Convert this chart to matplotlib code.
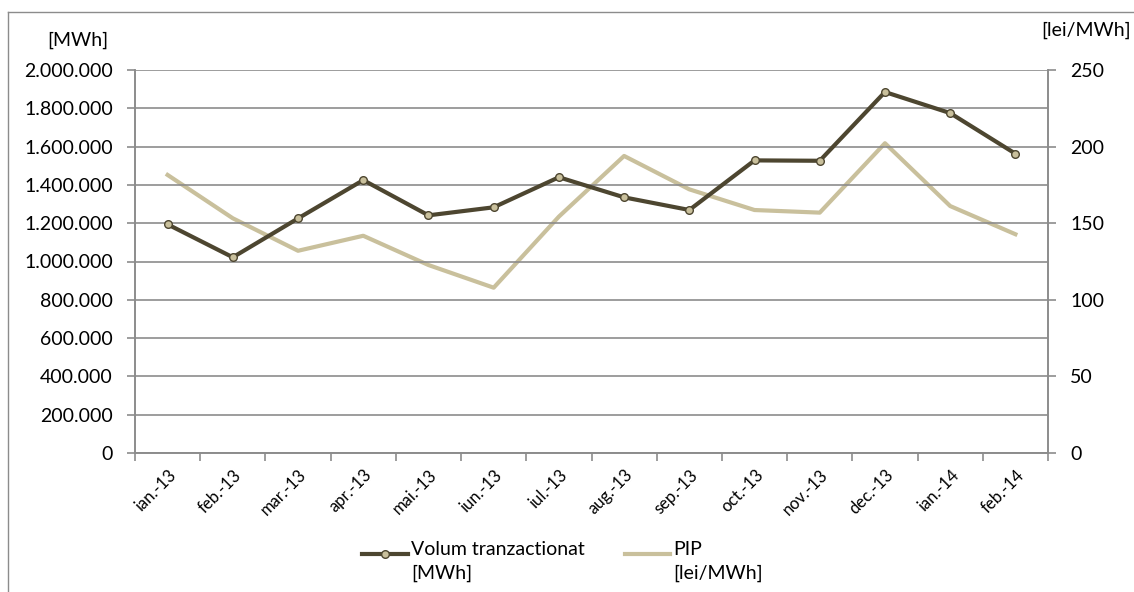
import matplotlib
matplotlib.use("Agg")
import matplotlib.pyplot as plt
import matplotlib.transforms as mtransforms
from matplotlib.ticker import FuncFormatter, FixedLocator
from matplotlib.lines import Line2D

# date
luni = ["ian.-13", "feb.-13", "mar.-13", "apr.-13", "mai.-13", "iun.-13", "iul.-13",
        "aug.-13", "sep.-13", "oct.-13", "nov.-13", "dec.-13", "ian.-14", "feb.-14"]
volum_mwh = [1194000, 1022000, 1225000, 1425000, 1241000, 1283000, 1440000,
             1335000, 1269000, 1528000, 1526000, 1885000, 1775000, 1563000]
pip_lei = [181.5, 153.2, 132.0, 141.8, 122.7, 107.9, 154.3,
           193.9, 172.1, 158.6, 156.9, 202.2, 161.2, 142.8]
ticks_stanga = [0, 200000, 400000, 600000, 800000, 1000000, 1200000, 1400000,
                1600000, 1800000, 2000000]
ticks_dreapta = [0, 50, 100, 150, 200, 250]

DARK = "#4d4630"
LIGHT = "#c9c09c"
MARKER = "#c9c09c"
GRID = "#8c8c8c"
FS = 14

plt.rcParams["font.family"] = ["Lato", "DejaVu Sans"]

W, H = 1134, 592
fig = plt.figure(figsize=(W / 100, H / 100), dpi=100)
ax = fig.add_axes([135 / W, 1 - 453 / H, (1048 - 135) / W, (453 - 70) / H])
ax2 = ax.twinx()

x = list(range(len(luni)))
ax.plot(x, volum_mwh, color=DARK, lw=3, marker="o", ms=5.5,
        mfc=MARKER, mec=DARK, mew=1, zorder=4)
ax2.plot(x, pip_lei, color=LIGHT, lw=3, zorder=3)
ax.set_zorder(ax2.get_zorder() + 1)
ax.patch.set_visible(False)

ax.set_xlim(-0.5, len(luni) - 0.5)
ax.set_ylim(0, 2000000)
ax2.set_ylim(0, 250)

ax.set_yticks(ticks_stanga)
ax.yaxis.set_major_formatter(FuncFormatter(lambda v, p: f"{int(v):,}".replace(",", ".")))
ax2.set_yticks(ticks_dreapta)

ax.xaxis.set_major_locator(FixedLocator([i - 0.5 for i in range(len(luni) + 1)]))
ax.xaxis.set_major_formatter(FuncFormatter(lambda v, p: ""))
ax.xaxis.set_minor_locator(FixedLocator(x))
ax.xaxis.set_minor_formatter(FuncFormatter(lambda v, p: luni[int(round(v))]))
ax.tick_params(axis="x", which="minor", length=0, pad=14, labelsize=12, colors="black")
ax.tick_params(axis="x", which="major", length=6, color=GRID, width=1.2)
ax.tick_params(axis="y", length=6, color=GRID, width=1.2, labelsize=FS, pad=10)
ax2.tick_params(axis="y", length=6, color=GRID, width=1.2, labelsize=FS, pad=10)

shift = mtransforms.ScaledTranslation(6 / 100, 0, fig.dpi_scale_trans)
for lbl in ax.get_xticklabels(minor=True):
    lbl.set_rotation(45)
    lbl.set_ha("right")
    lbl.set_va("center")
    lbl.set_rotation_mode("anchor")
    lbl.set_transform(lbl.get_transform() + shift)

ax.grid(axis="y", color=GRID, lw=1.2)
for a in (ax, ax2):
    a.spines["top"].set_visible(False)
    for s in ("left", "right", "bottom"):
        a.spines[s].set_color(GRID)
        a.spines[s].set_linewidth(1.2)

fig.text(108 / W, 1 - 40 / H, "[MWh]", ha="right", va="center", fontsize=FS)
fig.text(1131 / W, 1 - 30 / H, "[lei/MWh]", ha="right", va="center", fontsize=FS)

# chenarul exterior
fig.add_artist(Line2D([8 / W, 1.0], [1 - 12 / H, 1 - 12 / H], color=GRID, lw=1))
fig.add_artist(Line2D([8 / W, 8 / W], [0, 1 - 12 / H], color=GRID, lw=1))

# legenda, desenata manual ca in original (simbolul aliniat cu primul rand)
leg = [
    (362, 408, 411, "Volum tranzactionat\n[MWh]",
     dict(color=DARK, lw=3, marker="o", ms=5.5, mfc=MARKER, mec=DARK, mew=1, markevery=[1])),
    (625, 670, 673, "PIP\n[lei/MWh]", dict(color=LIGHT, lw=3)),
]
for x0, x1, xt, txt, st in leg:
    y = 1 - 554 / H
    fig.add_artist(Line2D([x0 / W, (x0 + x1) / 2 / W, x1 / W], [y, y, y], **st))
    fig.text(xt / W, 1 - 541 / H, txt, ha="left", va="top", fontsize=FS, linespacing=1.45)

fig.savefig("out.png", dpi=100)
